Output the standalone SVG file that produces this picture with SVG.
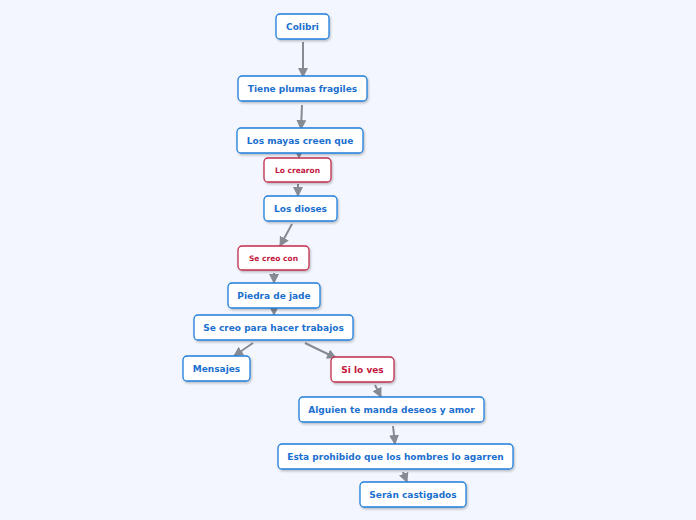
<svg xmlns="http://www.w3.org/2000/svg" width="696" height="520" viewBox="0 0 696 520">
<defs>
<marker id="ah" viewBox="0 0 10 10" refX="9" refY="5" markerWidth="10" markerHeight="10" markerUnits="userSpaceOnUse" orient="auto">
<path d="M0,0 L10,5 L0,10 z" fill="#858a93"/>
</marker>
<filter id="sh" x="-10%" y="-20%" width="120%" height="160%">
<feDropShadow dx="1" dy="1.5" stdDeviation="1" flood-color="#000" flood-opacity="0.25"/>
</filter>
</defs>
<style>
.n rect{fill:#fff;stroke:#1f7fdb;stroke-width:1.3;filter:url(#sh)}
.n text{fill:#1b6fcf;font-family:"DejaVu Sans",Verdana,sans-serif;font-weight:bold;font-size:9px;text-anchor:middle;dominant-baseline:central}
.r rect{stroke:#c22d4c}
.r text{fill:#c2173d;font-size:7.5px}
.c line{stroke:#858a93;stroke-width:2;marker-end:url(#ah)}
</style>
<rect width="696" height="520" fill="#f3f6fe"/>
<g class="c" id="connectors">
<line x1="303" y1="42" x2="303" y2="77"/>
<line x1="302" y1="105" x2="301" y2="129"/>
<line x1="299" y1="153" x2="299" y2="158"/>
<line x1="298" y1="184" x2="298" y2="196"/>
<line x1="292" y1="224" x2="280" y2="246"/>
<line x1="274" y1="273" x2="274" y2="283"/>
<line x1="274" y1="308" x2="274" y2="315"/>
<line x1="253" y1="343" x2="234" y2="356"/>
<line x1="305" y1="343" x2="336" y2="358"/>
<line x1="375" y1="385" x2="381" y2="397"/>
<line x1="393" y1="426" x2="395" y2="444"/>
<line x1="403" y1="472" x2="407" y2="482"/>
</g>
<g class="n" id="n1"><rect x="276" y="14" width="53" height="25" rx="4"/><text x="302.5" y="27">Colibri</text></g>
<g class="n" id="n2"><rect x="238" y="76" width="129" height="25" rx="4"/><text x="302.5" y="89">Tiene plumas fragiles</text></g>
<g class="n" id="n3"><rect x="237" y="128" width="126" height="25" rx="4"/><text x="300" y="141">Los mayas creen que</text></g>
<g class="n r" id="n4"><rect x="264" y="158" width="67" height="24" rx="4"/><text x="297.5" y="170">Lo crearon</text></g>
<g class="n" id="n5"><rect x="264" y="196" width="73" height="25" rx="4"/><text x="300.5" y="209">Los dioses</text></g>
<g class="n r" id="n6"><rect x="238" y="246" width="71" height="24" rx="4"/><text x="273.5" y="258">Se creo con</text></g>
<g class="n" id="n7"><rect x="228" y="283" width="92" height="25" rx="4"/><text x="274" y="296">Piedra de jade</text></g>
<g class="n" id="n8"><rect x="194" y="315" width="159" height="25" rx="4"/><text x="273.5" y="328">Se creo para hacer trabajos</text></g>
<g class="n" id="n9"><rect x="183" y="356" width="67" height="25" rx="4"/><text x="216.5" y="369">Mensajes</text></g>
<g class="n r" id="n10"><rect x="331" y="357" width="63" height="25" rx="4"/><text x="362.5" y="370" style="font-size:9px">Si lo ves</text></g>
<g class="n" id="n11"><rect x="299" y="397" width="185" height="25" rx="4"/><text x="391.5" y="410">Alguien te manda deseos y amor</text></g>
<g class="n" id="n12"><rect x="278" y="444" width="235" height="25" rx="4"/><text x="395.5" y="457">Esta prohibido que los hombres lo agarren</text></g>
<g class="n" id="n13"><rect x="360" y="482" width="106" height="25" rx="4"/><text x="413" y="495">Serán castigados</text></g>
</svg>
